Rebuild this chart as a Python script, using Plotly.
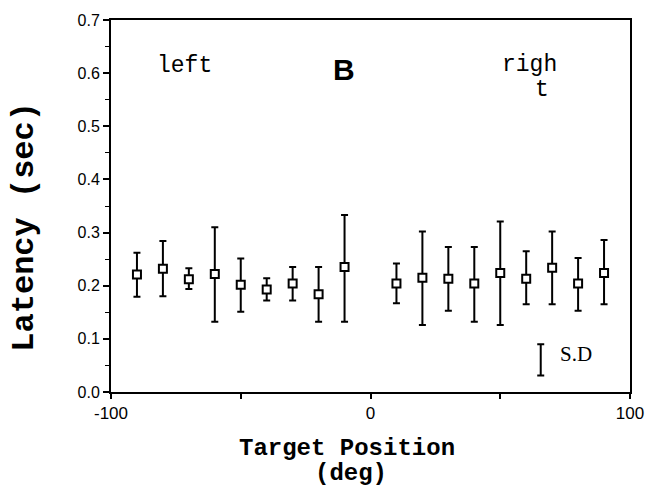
import plotly.graph_objects as go

# Target positions (deg)
positions = [-90, -80, -70, -60, -50, -40, -30, -20, -10,
             10, 20, 30, 40, 50, 60, 70, 80, 90]
# Mean latency (sec)
latency_mean = [0.221, 0.232, 0.212, 0.222, 0.202, 0.193, 0.204, 0.184, 0.235,
                0.204, 0.215, 0.213, 0.204, 0.224, 0.213, 0.234, 0.204, 0.224]
# Upper / lower ends of the S.D. bars
latency_upper = [0.262, 0.284, 0.233, 0.310, 0.251, 0.214, 0.235, 0.235, 0.333,
                 0.242, 0.302, 0.273, 0.273, 0.321, 0.265, 0.302, 0.252, 0.286]
latency_lower = [0.179, 0.180, 0.194, 0.132, 0.151, 0.172, 0.172, 0.132, 0.132,
                 0.167, 0.126, 0.153, 0.132, 0.126, 0.165, 0.165, 0.153, 0.165]

# S.D legend bar
sd_x = [65.6]
sd_lower = [0.031]
sd_upper = [0.090]

x_tickvals = [-100, -50, 0, 50, 100]
x_ticktext = ["-100", "", "0", "", "100"]
y_tickvals = [0.0, 0.1, 0.2, 0.3, 0.4, 0.5, 0.6, 0.7]
y_ticktext = ["0.0", "0.1", "0.2", "0.3", "0.4", "0.5", "0.6", "0.7"]

err_plus = [u - m for u, m in zip(latency_upper, latency_mean)]
err_minus = [m - l for m, l in zip(latency_mean, latency_lower)]

fig = go.Figure()
fig.add_trace(go.Scatter(
    x=positions, y=latency_mean, mode="markers",
    marker=dict(symbol="square", size=8, color="white",
                line=dict(color="black", width=2)),
    error_y=dict(type="data", symmetric=False, array=err_plus,
                 arrayminus=err_minus, color="black", thickness=2, width=3.5),
    showlegend=False,
))

sd_mid = [(a + b) / 2 for a, b in zip(sd_lower, sd_upper)]
sd_half = [(b - a) / 2 for a, b in zip(sd_lower, sd_upper)]
fig.add_trace(go.Scatter(
    x=sd_x, y=sd_mid, mode="markers",
    marker=dict(size=1, color="rgba(0,0,0,0)"),
    error_y=dict(type="data", array=sd_half, color="black", thickness=2, width=3.5),
    showlegend=False, hoverinfo="skip",
))

mono = "Liberation Mono, Courier New, monospace"
plot_l, plot_r, plot_t, plot_b = 111, 630, 14, 392
fig.update_layout(
    width=661, height=492,
    margin=dict(l=plot_l, r=661 - plot_r, t=plot_t, b=492 - plot_b),
    paper_bgcolor="white", plot_bgcolor="white",
    font=dict(family="Liberation Sans, Arial, sans-serif", color="black", size=16),
    xaxis=dict(range=[-100, 100], tickvals=x_tickvals, ticktext=x_ticktext,
               ticks="outside", ticklen=5, tickwidth=1.5, tickcolor="black",
               showline=True, linecolor="black", linewidth=2, mirror=True,
               showgrid=False, zeroline=False, tickfont=dict(size=17)),
    yaxis=dict(range=[0, 0.7], tickvals=y_tickvals, ticktext=y_ticktext,
               ticks="outside", ticklen=6, tickwidth=1.5, tickcolor="black",
               minor=dict(tickvals=[0.05, 0.15, 0.25, 0.35, 0.45, 0.55, 0.65],
                          ticks="outside", ticklen=4, tickwidth=1.2, tickcolor="black"),
               showline=True, linecolor="black", linewidth=2, mirror=True,
               showgrid=False, zeroline=False, tickfont=dict(size=16)),
)


def px_x(px):
    return (px - plot_l) / (plot_r - plot_l)


def px_y(py):
    return (plot_b - py) / (plot_b - plot_t)


annotations = [
    dict(text="left", x=-71.5, y=0.613, xref="x", yref="y", showarrow=False,
         font=dict(family=mono, size=23)),
    dict(text="<b>B</b>", x=-10.4, y=0.607, xref="x", yref="y", showarrow=False,
         font=dict(family="Liberation Sans, Arial, sans-serif", size=30)),
    dict(text="righ", x=61.3, y=0.615, xref="x", yref="y", showarrow=False,
         font=dict(family=mono, size=23)),
    dict(text="t", x=66.1, y=0.568, xref="x", yref="y", showarrow=False,
         font=dict(family=mono, size=23)),
    dict(text="S.D", x=72.3, y=0.071, xref="x", yref="y", showarrow=False,
         xanchor="left", font=dict(family="Liberation Serif, Times New Roman, serif", size=21)),
    dict(text="<b>Target Position</b>", x=px_x(347), y=px_y(449),
         xref="paper", yref="paper", showarrow=False, xanchor="center", yanchor="middle",
         font=dict(family=mono, size=24)),
    dict(text="<b>(deg)</b>", x=px_x(351), y=px_y(475),
         xref="paper", yref="paper", showarrow=False, xanchor="center", yanchor="middle",
         font=dict(family=mono, size=24)),
    dict(text="<b>Latency (sec)</b>", x=px_x(25), y=px_y(224), xref="paper", yref="paper",
         showarrow=False, textangle=-90, xanchor="center", yanchor="middle",
         font=dict(family=mono, size=32)),
]
fig.update_layout(annotations=annotations)

fig.write_html("out.html")
